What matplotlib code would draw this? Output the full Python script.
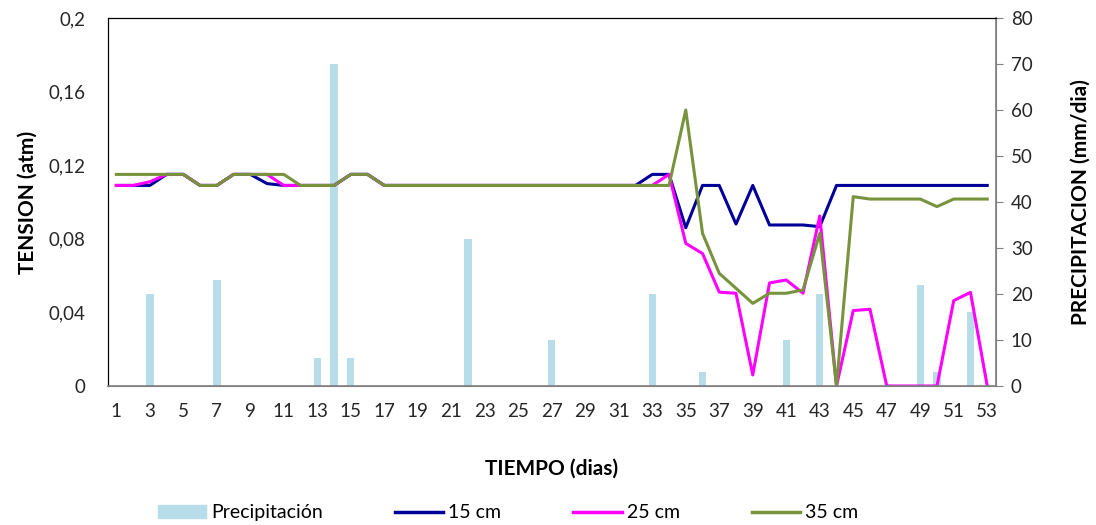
import numpy as np
import matplotlib
matplotlib.use('Agg')
import matplotlib.pyplot as plt
from matplotlib.ticker import FuncFormatter
from matplotlib.patches import Patch
from matplotlib.lines import Line2D

plt.rcParams['font.family'] = ['Lato', 'DejaVu Sans']

# Datos
dias = list(range(1, 54))

precip_dias = [3, 7, 13, 14, 15, 22, 27, 33, 36, 41, 43, 49, 50, 52]
precip_vals = [20, 23, 6, 70, 6, 32, 10, 20, 3, 10, 20, 22, 3, 16]

A = 0.109  # nivel bajo
B = 0.115  # nivel alto

t15 = [A, A, A, B, B, A, A, B, B, 0.110, A, A, A, A, B, B] + [A] * 15 + \
      [A, B, B, 0.086, A, A, 0.088, A, 0.0875, 0.0875, 0.0875, 0.0866] + [A] * 10

t25 = [A, A, 0.111, B, B, A, A, B, B, B, A, A, A, A, B, B] + [A] * 15 + \
      [A, A, B, 0.0775, 0.072, 0.051, 0.0504, 0.006, 0.056, 0.0576, 0.0504, 0.0924,
       0, 0.041, 0.0417, 0, 0, 0, 0, 0.0464, 0.0509, 0]

t35 = [B, B, B, B, B, A, A, B, B, B, B, A, A, A, B, B] + [A] * 15 + \
      [A, A, A, 0.150, 0.083, 0.0612, 0.0531, 0.0449, 0.0504, 0.0504, 0.0522, 0.083,
       0, 0.1029, 0.1016, 0.1016, 0.1016, 0.1016, 0.0975, 0.1016, 0.1016, 0.1016]

fig = plt.figure(figsize=(10.96, 5.25), dpi=100)
ax = fig.add_axes([0.0985, 0.2648, 0.8099, 0.7009])
ax2 = ax.twinx()

# Barras de precipitacion en el eje derecho
ax2.bar(precip_dias, precip_vals, width=0.44, color='#B7DDE8', zorder=1)
ax2.set_ylim(0, 80)
ax2.set_yticks(range(0, 81, 10))

ax.set_zorder(ax2.get_zorder() + 1)
ax.patch.set_visible(False)

ax.plot(dias, t15, color='#000099', lw=2.2)
ax.plot(dias, t25, color='#FF00FF', lw=2.2)
ax.plot(dias, t35, color='#77933C', lw=2.2)

ax.set_ylim(0, 0.2)
ax.set_xlim(0.5, 53.5)
ax.set_yticks([0, 0.04, 0.08, 0.12, 0.16, 0.2])
ax.yaxis.set_major_formatter(FuncFormatter(
    lambda v, p: '0' if v == 0 else ('%g' % round(v, 2)).replace('.', ',')))
ax.set_xticks(range(1, 54, 2))

ax.tick_params(axis='y', length=0, labelsize=13.5, pad=16, labelcolor='#262626')
ax.tick_params(axis='x', length=0, labelsize=13.5, pad=12, labelcolor='#262626')
ax2.tick_params(axis='y', length=5, color='#808080', labelsize=13.5, pad=6,
                labelcolor='#262626')

for s in ['left', 'top']:
    ax.spines[s].set_color('#000000')
for s in ['bottom', 'right']:
    ax.spines[s].set_color('#808080')
    ax2.spines[s].set_color('#808080')
ax2.spines['right'].set_linewidth(1.2)
ax.spines['bottom'].set_linewidth(1.2)

ax.set_ylabel('TENSION (atm)', fontsize=15, fontweight='bold', labelpad=8)
ax2.set_ylabel('PRECIPITACION (mm/dia)', fontsize=15, fontweight='bold', labelpad=27)
ax.set_xlabel('TIEMPO (dias)', fontsize=15, fontweight='bold', labelpad=28)

handles = [Patch(color='#B7DDE8'),
           Line2D([], [], color='#000099', lw=2.5),
           Line2D([], [], color='#FF00FF', lw=2.5),
           Line2D([], [], color='#77933C', lw=2.5)]
labels = ['Precipitación', '15 cm', '25 cm', '35 cm']
fig.legend(handles, labels, loc='center', bbox_to_anchor=(0.4635, 0.023), ncol=4,
           frameon=False, fontsize=14, handlelength=2.5, handletextpad=0.25,
           columnspacing=3.7)

fig.savefig('out.png', dpi=100)
